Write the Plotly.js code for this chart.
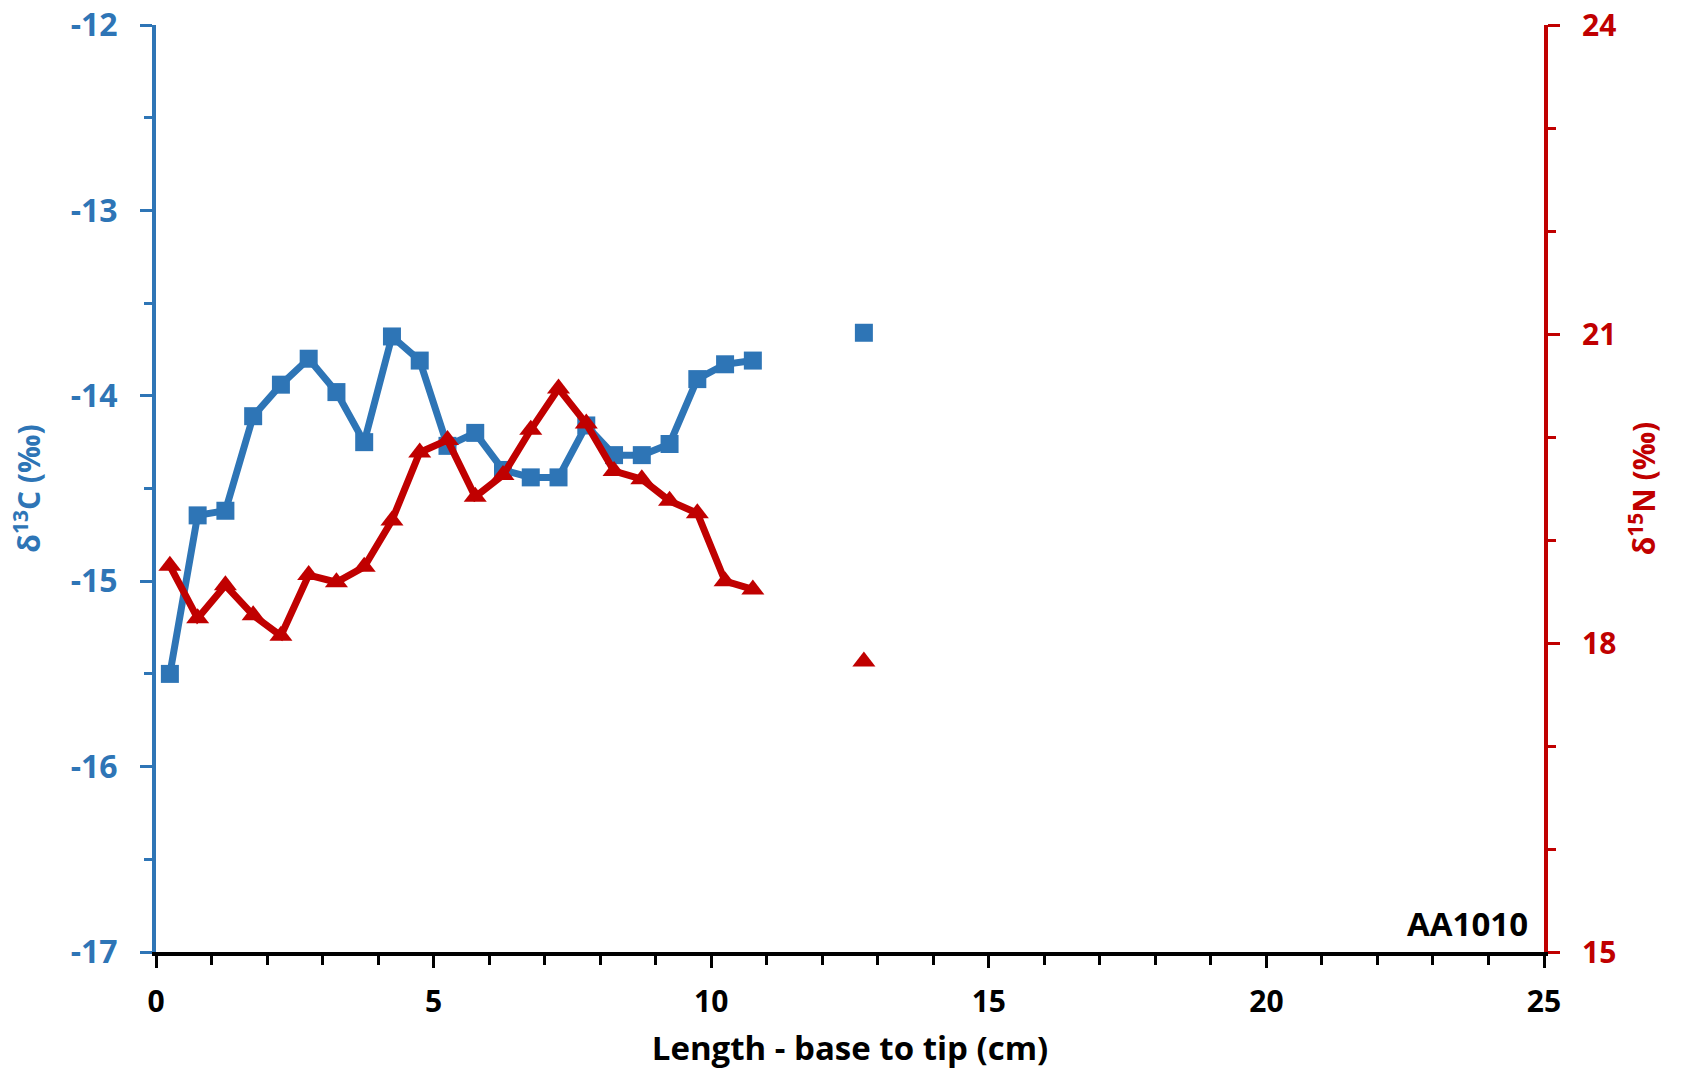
<!DOCTYPE html>
<html>
<head>
<meta charset="utf-8">
<script src="https://cdn.plot.ly/plotly-3.0.1.min.js"></script>
<style>html,body{margin:0;padding:0;background:#fff;}#chart{width:1686px;height:1071px;}</style>
</head>
<body>
<div id="chart"></div>
<script>
// Length from base to tip (cm)
var lengthCm = [0.25, 0.75, 1.25, 1.75, 2.25, 2.75, 3.25, 3.75, 4.25, 4.75, 5.25, 5.75, 6.25, 6.75, 7.25, 7.75, 8.25, 8.75, 9.25, 9.75, 10.25, 10.75, 11.25, 11.75, 12.25, 12.75];
// δ13C (‰) — null where no measurement
var d13C = [-15.50, -14.645, -14.62, -14.11, -13.94, -13.80, -13.98, -14.25, -13.68, -13.81, -14.27, -14.20, -14.40, -14.44, -14.44, -14.16, -14.32, -14.32, -14.26, -13.91, -13.83, -13.81, null, null, null, -13.66];
// δ15N (‰)
var d15N = [18.75, 18.24, 18.56, 18.27, 18.07, 18.66, 18.59, 18.74, 19.19, 19.85, 19.97, 19.42, 19.63, 20.07, 20.47, 20.13, 19.67, 19.59, 19.38, 19.26, 18.60, 18.52, null, null, null, 17.82];
// Tick values and labels
var xTickVals = [0, 5, 10, 15, 20, 25];
var cTickVals = [-17, -16, -15, -14, -13, -12];
var cTickText = ["-17", "-16", "-15", "-14", "-13", "-12"];
var nTickVals = [15, 18, 21, 24];
var sampleLabel = "AA1010";

var BLUE = "#2E75B6";
var RED = "#C00000";
var FONT = "Open Sans, sans-serif";

var traces = [
  {
    x: lengthCm, y: d13C, type: "scatter", mode: "lines+markers",
    name: "δ13C", yaxis: "y", connectgaps: false,
    line: {color: BLUE, width: 7},
    marker: {symbol: "square", size: 18, color: BLUE}
  },
  {
    x: lengthCm, y: d15N, type: "scatter", mode: "lines+markers",
    name: "δ15N", yaxis: "y2", connectgaps: false,
    line: {color: RED, width: 7},
    marker: {symbol: "triangle-up", size: 20, color: RED}
  }
];

var layout = {
  width: 1686, height: 1071,
  margin: {l: 156, r: 142, t: 25, b: 119},
  paper_bgcolor: "#fff", plot_bgcolor: "#fff",
  showlegend: false,
  font: {family: FONT},
  xaxis: {
    range: [0, 25], tickmode: "array", tickvals: xTickVals,
    showgrid: false, zeroline: false,
    showline: true, linecolor: "#000", linewidth: 4,
    ticks: "outside", ticklen: 12, tickwidth: 3, tickcolor: "#000",
    minor: {dtick: 1, ticks: "outside", ticklen: 9, tickwidth: 3, tickcolor: "#000"},
    tickfont: {family: FONT, size: 30, color: "#000", weight: "bold"},
    ticklabelstandoff: 8,
    title: {text: "Length - base to tip (cm)", font: {family: FONT, size: 33, color: "#000", weight: "bold"}, standoff: 18}
  },
  yaxis: {
    range: [-17, -12], tickmode: "array", tickvals: cTickVals, ticktext: cTickText,
    showgrid: false, zeroline: false,
    showline: true, linecolor: BLUE, linewidth: 4,
    ticks: "outside", ticklen: 12, tickwidth: 3, tickcolor: BLUE,
    minor: {dtick: 0.5, tick0: -17, ticks: "outside", ticklen: 8, tickwidth: 3, tickcolor: BLUE},
    tickfont: {family: FONT, size: 32, color: BLUE, weight: "bold"},
    ticklabelstandoff: 16,
    title: {text: "δ<sup>13</sup>C (‰)", font: {family: FONT, size: 30, color: BLUE, weight: "bold"}, standoff: 22}
  },
  yaxis2: {
    range: [15, 24], tickmode: "array", tickvals: nTickVals,
    overlaying: "y", side: "right",
    showgrid: false, zeroline: false,
    showline: true, linecolor: RED, linewidth: 4,
    ticks: "outside", ticklen: 12, tickwidth: 3, tickcolor: RED,
    minor: {dtick: 1, tick0: 15, ticks: "outside", ticklen: 8, tickwidth: 3, tickcolor: RED},
    tickfont: {family: FONT, size: 30, color: RED, weight: "bold"},
    ticklabelstandoff: 16,
    title: {text: "δ<sup>15</sup>N (‰)", font: {family: FONT, size: 30, color: RED, weight: "bold"}, standoff: 20}
  },
  annotations: [
    {
      text: sampleLabel, xref: "paper", yref: "paper", x: 1, y: 0,
      xanchor: "right", yanchor: "bottom", xshift: -14, yshift: 4,
      showarrow: false,
      font: {family: FONT, size: 33, color: "#000", weight: "bold"}
    }
  ]
};

Plotly.newPlot("chart", traces, layout, {displayModeBar: false, responsive: false});
</script>
</body>
</html>
